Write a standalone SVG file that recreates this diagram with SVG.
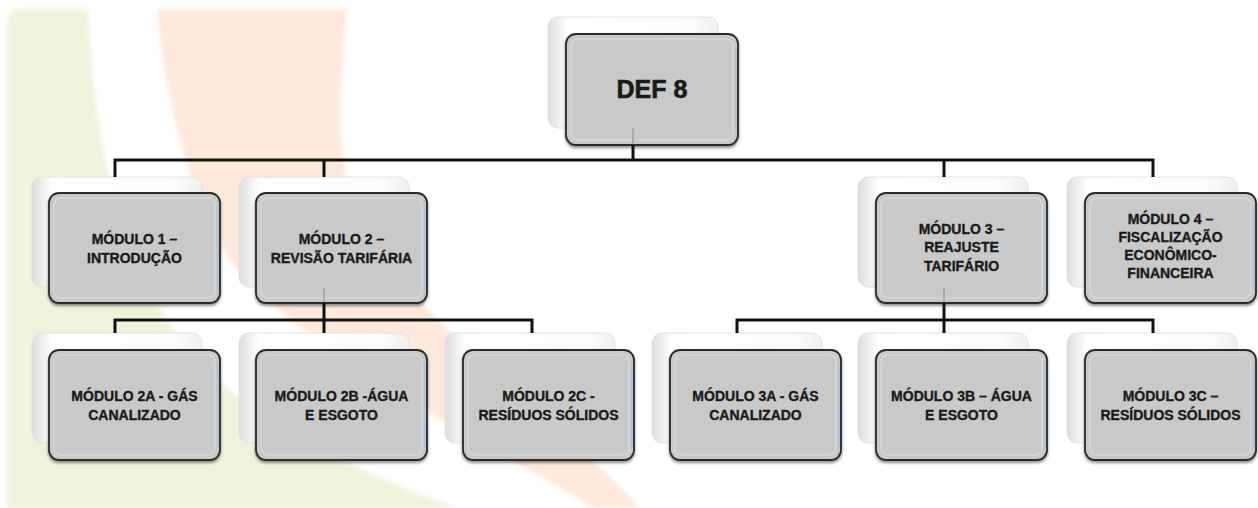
<svg xmlns="http://www.w3.org/2000/svg" width="1258" height="508" viewBox="0 0 1258 508">
<defs>
<linearGradient id="gBack" x1="0" y1="0" x2="1" y2="0">
<stop offset="0" stop-color="#dedede"/>
<stop offset="0.12" stop-color="#ffffff"/>
<stop offset="0.85" stop-color="#fbfbfb"/>
<stop offset="1" stop-color="#efefef"/>
</linearGradient>
<filter id="soft" x="-5%" y="-5%" width="110%" height="110%">
<feGaussianBlur stdDeviation="2"/>
</filter>
<filter id="shadow" x="-10%" y="-10%" width="120%" height="125%">
<feDropShadow dx="0" dy="2" stdDeviation="1.5" flood-color="#000" flood-opacity="0.45"/>
</filter>
</defs>
<style>
.back{fill:url(#gBack);stroke:#e2e2e2;stroke-width:1}
.front{fill:#c9c9c9;stroke:#2b2b2b;stroke-width:1.8;filter:url(#shadow)}
.inner{fill:none;stroke:#d3d3d3;stroke-width:2}
.edge{stroke:#a9c0da;stroke-width:1.5}
.lbl{font-family:"Liberation Sans",Arial,sans-serif;font-weight:bold;font-size:14px;fill:#1a1a1a;stroke:#1a1a1a;stroke-width:0.35;text-anchor:middle}
.big{font-size:25px;stroke-width:0.6}
.conn{fill:none;stroke:#111;stroke-width:3}
.faint{fill:none;stroke:#aaaaaa;stroke-width:2}
</style>
<rect x="0" y="0" width="1258" height="508" fill="#ffffff"/>
<g id="background" filter="url(#soft)">
<path d="M7,508 L7,24 Q7,9 22,9 L88,9 C95,150 120,300 230,390 C300,445 390,485 458,508 Z" fill="#eef4dc"/>
<path d="M157,9 L347,9 C340,90 330,170 370,240 C420,320 560,420 640,508 L595,508 C480,440 300,350 230,260 C190,200 165,100 157,9 Z" fill="#fde9dc"/>
</g>
<g id="n-def8">
<rect class="back" x="548" y="17" width="170" height="111" rx="10"/>
<rect class="front" x="566" y="34" width="172" height="111" rx="10"/>
<rect class="inner" x="571" y="39" width="162" height="101" rx="7"/>
<line class="edge" x1="736" y1="46" x2="736" y2="133"/>
<text class="lbl big" x="652" y="98">DEF 8</text>
</g>
<g id="n-mod1">
<rect class="back" x="32" y="177" width="170" height="110" rx="10"/>
<rect class="front" x="49" y="193" width="171" height="110" rx="10"/>
<rect class="inner" x="54" y="198" width="161" height="100" rx="7"/>
<line class="edge" x1="218" y1="205" x2="218" y2="291"/>
<text class="lbl" x="134.5" y="244">MÓDULO 1 –</text>
<text class="lbl" x="134.5" y="263">INTRODUÇÃO</text>
</g>
<g id="n-mod2">
<rect class="back" x="239" y="177" width="170" height="110" rx="10"/>
<rect class="front" x="256" y="193" width="171" height="110" rx="10"/>
<rect class="inner" x="261" y="198" width="161" height="100" rx="7"/>
<line class="edge" x1="425" y1="205" x2="425" y2="291"/>
<text class="lbl" x="341.5" y="244">MÓDULO 2 –</text>
<text class="lbl" x="341.5" y="263">REVISÃO TARIFÁRIA</text>
</g>
<g id="n-mod3">
<rect class="back" x="858" y="177" width="170" height="110" rx="10"/>
<rect class="front" x="876" y="193" width="171" height="110" rx="10"/>
<rect class="inner" x="881" y="198" width="161" height="100" rx="7"/>
<line class="edge" x1="1045" y1="205" x2="1045" y2="291"/>
<text class="lbl" x="961.5" y="234">MÓDULO 3 –</text>
<text class="lbl" x="961.5" y="252">REAJUSTE</text>
<text class="lbl" x="961.5" y="270.5">TARIFÁRIO</text>
</g>
<g id="n-mod4">
<rect class="back" x="1067" y="177" width="170" height="110" rx="10"/>
<rect class="front" x="1085" y="193" width="171" height="110" rx="10"/>
<rect class="inner" x="1090" y="198" width="161" height="100" rx="7"/>
<line class="edge" x1="1254" y1="205" x2="1254" y2="291"/>
<text class="lbl" x="1170.5" y="224">MÓDULO 4 –</text>
<text class="lbl" x="1170.5" y="242">FISCALIZAÇÃO</text>
<text class="lbl" x="1170.5" y="260">ECONÔMICO-</text>
<text class="lbl" x="1170.5" y="278">FINANCEIRA</text>
</g>
<g id="n-mod2a">
<rect class="back" x="32" y="333" width="170" height="110" rx="10"/>
<rect class="front" x="49" y="350" width="171" height="110" rx="10"/>
<rect class="inner" x="54" y="355" width="161" height="100" rx="7"/>
<line class="edge" x1="218" y1="362" x2="218" y2="448"/>
<text class="lbl" x="134.5" y="401">MÓDULO 2A - GÁS</text>
<text class="lbl" x="134.5" y="420">CANALIZADO</text>
</g>
<g id="n-mod2b">
<rect class="back" x="239" y="333" width="170" height="110" rx="10"/>
<rect class="front" x="256" y="350" width="171" height="110" rx="10"/>
<rect class="inner" x="261" y="355" width="161" height="100" rx="7"/>
<line class="edge" x1="425" y1="362" x2="425" y2="448"/>
<text class="lbl" x="341.5" y="401">MÓDULO 2B -ÁGUA</text>
<text class="lbl" x="341.5" y="420">E ESGOTO</text>
</g>
<g id="n-mod2c">
<rect class="back" x="445" y="333" width="170" height="110" rx="10"/>
<rect class="front" x="463" y="350" width="171" height="110" rx="10"/>
<rect class="inner" x="468" y="355" width="161" height="100" rx="7"/>
<line class="edge" x1="632" y1="362" x2="632" y2="448"/>
<text class="lbl" x="548.5" y="401">MÓDULO 2C -</text>
<text class="lbl" x="548.5" y="420">RESÍDUOS SÓLIDOS</text>
</g>
<g id="n-mod3a">
<rect class="back" x="652" y="333" width="170" height="110" rx="10"/>
<rect class="front" x="670" y="350" width="171" height="110" rx="10"/>
<rect class="inner" x="675" y="355" width="161" height="100" rx="7"/>
<line class="edge" x1="839" y1="362" x2="839" y2="448"/>
<text class="lbl" x="755.5" y="401">MÓDULO 3A - GÁS</text>
<text class="lbl" x="755.5" y="420">CANALIZADO</text>
</g>
<g id="n-mod3b">
<rect class="back" x="858" y="333" width="170" height="110" rx="10"/>
<rect class="front" x="876" y="350" width="171" height="110" rx="10"/>
<rect class="inner" x="881" y="355" width="161" height="100" rx="7"/>
<line class="edge" x1="1045" y1="362" x2="1045" y2="448"/>
<text class="lbl" x="961.5" y="401">MÓDULO 3B – ÁGUA</text>
<text class="lbl" x="961.5" y="420">E ESGOTO</text>
</g>
<g id="n-mod3c">
<rect class="back" x="1067" y="333" width="170" height="110" rx="10"/>
<rect class="front" x="1085" y="350" width="171" height="110" rx="10"/>
<rect class="inner" x="1090" y="355" width="161" height="100" rx="7"/>
<line class="edge" x1="1254" y1="362" x2="1254" y2="448"/>
<text class="lbl" x="1170.5" y="401">MÓDULO 3C –</text>
<text class="lbl" x="1170.5" y="420">RESÍDUOS SÓLIDOS</text>
</g>
<g id="connectors">
<path class="faint" d="M633,128 V144 M324,288 V302 M944,288 V302"/>
<path class="conn" d="M633,145 V160 M115,177 V160 H1153 V177 M324,160 V177 M944,160 V177"/>
<path class="conn" d="M324,303 V333 M115,333 V320 H532 V333"/>
<path class="conn" d="M944,303 V333 M737,333 V320 H1153 V333"/>
</g>
</svg>
